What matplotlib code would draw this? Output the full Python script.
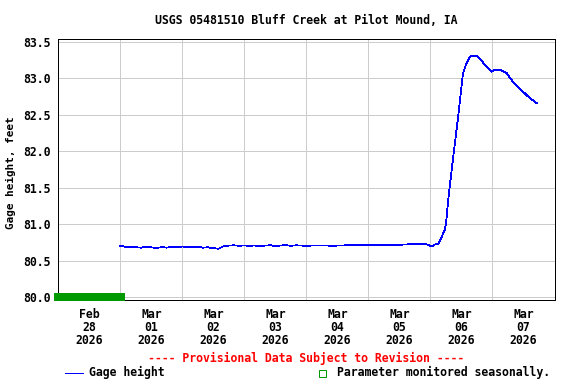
import matplotlib
matplotlib.use("Agg")
import matplotlib.pyplot as plt
import matplotlib.dates as mdates
from matplotlib.patches import Rectangle
from matplotlib.lines import Line2D
import pandas as pd
import numpy as np

# ---- data ----
title = "USGS 05481510 Bluff Creek at Pilot Mound, IA"
ylabel = "Gage height, feet"
series_name = "Gage height"
season_note = "Parameter monitored seasonally."
provisional = "---- Provisional Data Subject to Revision ----"

# hours since 2026-03-01 00:00
hours = [0, 2, 4, 6, 8, 10, 12, 14, 16, 18, 20, 22,
         24, 26, 28, 30, 32, 34, 36, 38, 40, 42, 44, 46,
         48, 50, 52, 54, 56, 58, 60, 62, 64, 66, 68, 70,
         72, 74, 76, 78, 80, 82, 84, 86, 88, 90, 92, 94,
         96, 98, 100, 102, 104, 106, 108, 110, 112, 114, 116, 118,
         119, 120.5, 121.5, 123, 124, 125.5, 126, 126.7, 127.4, 128.8,
         130.7, 132.6, 134, 135.2, 135.9, 138.1, 139.8, 141.7, 143.6,
         144.9, 147.5, 149.5, 152, 154.6, 157.8, 161.1]
gage = [80.706, 80.690, 80.685, 80.684, 80.680, 80.692, 80.684, 80.675, 80.686, 80.680, 80.688, 80.684,
        80.695, 80.690, 80.684, 80.688, 80.680, 80.684, 80.672, 80.665, 80.700, 80.708, 80.711, 80.705,
        80.710, 80.704, 80.710, 80.700, 80.708, 80.712, 80.702, 80.709, 80.712, 80.706, 80.711, 80.708,
        80.706, 80.708, 80.708, 80.708, 80.708, 80.706, 80.708, 80.708, 80.714, 80.716, 80.716, 80.716,
        80.716, 80.718, 80.716, 80.718, 80.712, 80.718, 80.720, 80.722, 80.726, 80.728, 80.730, 80.728,
        80.72, 80.695, 80.72, 80.73, 80.80, 80.92, 81.00, 81.27, 81.50, 81.92,
        82.47, 83.07, 83.21, 83.29, 83.31, 83.31, 83.24, 83.16, 83.09,
        83.12, 83.11, 83.07, 82.95, 82.86, 82.75, 82.66]

start = pd.Timestamp("2026-03-01 00:00")
times = [start + pd.Timedelta(hours=h) for h in hours]

x_start = pd.Timestamp("2026-02-28")
x_end = pd.Timestamp("2026-03-08")
day_labels = ["Feb\n28\n2026", "Mar\n01\n2026", "Mar\n02\n2026", "Mar\n03\n2026",
              "Mar\n04\n2026", "Mar\n05\n2026", "Mar\n06\n2026", "Mar\n07\n2026"]
yticks = [80.0, 80.5, 81.0, 81.5, 82.0, 82.5, 83.0, 83.5]

# ---- figure ----
W, H = 576, 384
fig = plt.figure(figsize=(W / 72, H / 72), dpi=72)
FONT = "DejaVu Sans Mono"

L, R, T, B = 58.3, 554.5, 39.3, 300.0
ax = fig.add_axes([L / W, 1 - B / H, (R - L) / W, (B - T) / H])

ax.plot(times, gage, color="#0000ff", lw=0.8, antialiased=False)

ax.set_xlim(x_start, x_end)
ax.set_ylim(79.962, 83.535)

midnights = pd.date_range(x_start, x_end, freq="D")
noons = [d + pd.Timedelta(hours=12) for d in midnights[:-1]]
ax.set_xticks(midnights)
ax.set_xticklabels([""] * len(midnights))
ax.set_xticks(noons, minor=True)
ax.set_xticklabels(day_labels, minor=True, fontfamily=FONT, fontweight="bold",
                   fontsize=11.5, linespacing=1.0)
ax.tick_params(axis="x", which="both", length=0, pad=8)

ax.set_yticks(yticks)
ax.set_yticklabels([f"{v:.1f}" for v in yticks], fontfamily=FONT,
                   fontweight="bold", fontsize=11.5)
ax.tick_params(axis="y", length=0, pad=8)

ax.grid(True, which="major", color="#cccccc", lw=1.0)
ax.set_axisbelow(True)
for s in ax.spines.values():
    s.set_color("black")
    s.set_linewidth(1.0)

# seasonal green bar at bottom-left
def fx(px):
    return px / W

def fy(py):
    return 1 - py / H

fig.patches.append(Rectangle((fx(54), fy(301)), (125 - 54) / W, (301 - 293) / H,
                             transform=fig.transFigure, facecolor="#009900",
                             edgecolor="none", zorder=5))

fig.text(fx((L + R) / 2), fy(20), title, ha="center", va="center",
         fontfamily=FONT, fontweight="bold", fontsize=11.5)
fig.text(fx(11), fy((T + B) / 2 + 3), ylabel, ha="center", va="center",
         rotation=90, fontfamily=FONT, fontweight="bold", fontsize=11)
fig.text(fx((L + R) / 2), fy(358.3), provisional, ha="center", va="center",
         color="#ff0000", fontfamily=FONT, fontweight="bold", fontsize=11.5)

# legend row
fig.lines.append(Line2D([fx(65), fx(83.3)], [fy(372.7), fy(372.7)],
                        transform=fig.transFigure, color="#0000ff", lw=1.0))
fig.text(fx(89), fy(372.7), series_name, ha="left", va="center",
         fontfamily=FONT, fontweight="bold", fontsize=11.5)
fig.patches.append(Rectangle((fx(318.5), fy(376.5)), 7.5 / W, 6.5 / H,
                             transform=fig.transFigure, facecolor="none",
                             edgecolor="#009900", lw=1.0))
fig.text(fx(336.7), fy(372.7), season_note, ha="left", va="center",
         fontfamily=FONT, fontweight="bold", fontsize=11.5)

fig.savefig("out.png", dpi=72)
